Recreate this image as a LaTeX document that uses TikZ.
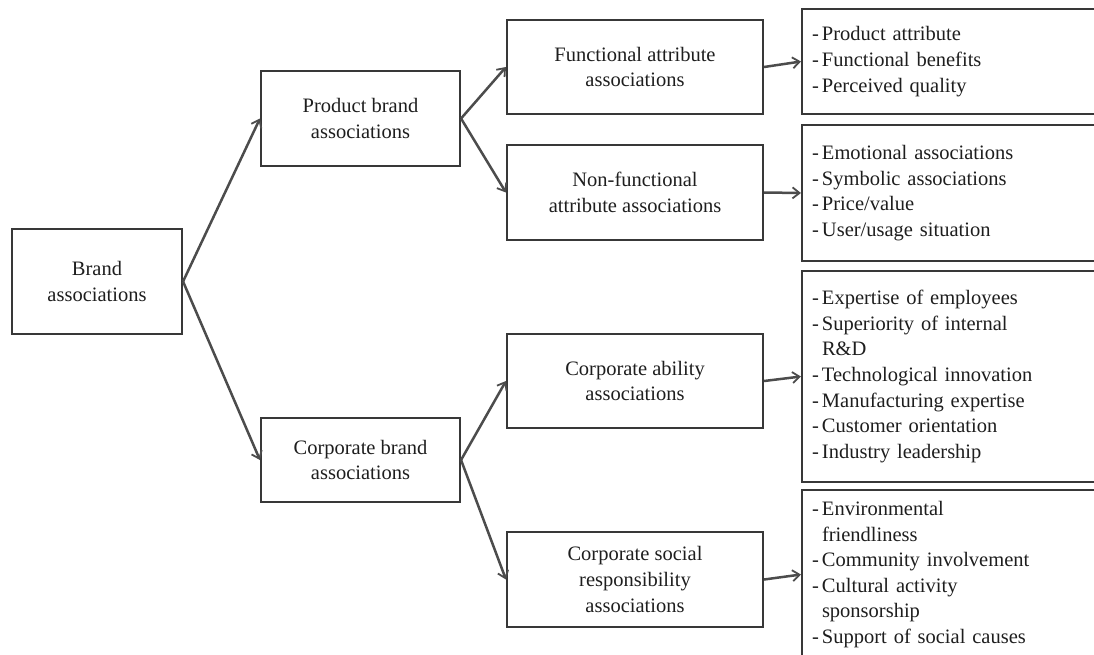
\documentclass[tikz,border=0pt]{standalone}
\usepackage{fontspec}
\setmainfont{Liberation Serif}
\usetikzlibrary{arrows.meta}
\setlength{\parindent}{0pt}
% list entry with a leading dash, and a continuation line indented under it
\newcommand\dashitem[1]{\makebox[10pt][l]{-}#1}
\newcommand\contline[1]{\hspace*{10pt}#1}
\definecolor{ink}{HTML}{1E1E1E}
\definecolor{edge}{HTML}{383838}
\begin{document}
\begin{tikzpicture}[x=1pt,y=-1pt,
  every node/.style={font=\fontsize{20.5pt}{25.6pt}\selectfont, text=ink},
  box/.style={draw=edge, line width=2.1pt, align=center, inner sep=0pt},
  listbox/.style={draw=edge, line width=2.1pt, minimum width=310pt, inner xsep=10pt,
    inner ysep=0pt, text width=290pt, align=left},
  link/.style={draw=edge!90, line width=2.5pt, -{Straight Barb[length=7pt,width=11pt,line width=1.8pt]}}
]
\path[use as bounding box, clip] (0,0) rectangle (1094,654);
\fill[white] (0,0) rectangle (1094,654);

% first and second level
\node[box, minimum width=170pt, minimum height=105pt] (brand) at (97,281.5) {Brand\\associations};
\node[box, minimum width=199pt, minimum height=95pt] (prod) at (360.5,118.5) {Product brand\\associations};
\node[box, minimum width=199pt, minimum height=84pt] (corp) at (360.5,460) {Corporate brand\\associations};

% third level
\node[box, minimum width=256pt, minimum height=94pt] (func) at (635,67) {Functional attribute\\associations};
\node[box, minimum width=256pt, minimum height=95pt] (nonf) at (635,192.5) {Non-functional\\attribute associations};
\node[box, minimum width=256pt, minimum height=94pt] (abil) at (635,381) {Corporate ability\\associations};
\node[box, minimum width=256pt, minimum height=95pt] (csr) at (635,579.5) {Corporate social\\responsibility\\associations};

% detail lists
\node[listbox, minimum height=105pt] (l1) at (957,61.5) {%
  \dashitem{Product attribute}\\
  \dashitem{Functional benefits}\\
  \dashitem{Perceived quality}};
\node[listbox, minimum height=136pt] (l2) at (957,193) {%
  \dashitem{Emotional associations}\\
  \dashitem{Symbolic associations}\\
  \dashitem{Price/value}\\
  \dashitem{User/usage situation}};
\node[listbox, minimum height=211pt] (l3) at (957,376.5) {%
  \dashitem{Expertise of employees}\\
  \dashitem{Superiority of internal}\\
  \contline{R\&D}\\
  \dashitem{Technological innovation}\\
  \dashitem{Manufacturing expertise}\\
  \dashitem{Customer orientation}\\
  \dashitem{Industry leadership}};
\node[listbox, minimum height=169pt] (l4) at (957,574.5) {%
  \dashitem{Environmental}\\
  \contline{friendliness}\\
  \dashitem{Community involvement}\\
  \dashitem{Cultural activity}\\
  \contline{sponsorship}\\
  \dashitem{Support of social causes}};

% connectors
\draw[link] (brand.east) -- (prod.west);
\draw[link] (brand.east) -- (corp.west);
\draw[link] (prod.east) -- (func.west);
\draw[link] (prod.east) -- (nonf.west);
\draw[link] (corp.east) -- (abil.west);
\draw[link] (corp.east) -- (csr.west);
\draw[link] (func.east) -- (l1.west);
\draw[link] (nonf.east) -- (l2.west);
\draw[link] (abil.east) -- (l3.west);
\draw[link] (csr.east) -- (l4.west);
\end{tikzpicture}
\end{document}
